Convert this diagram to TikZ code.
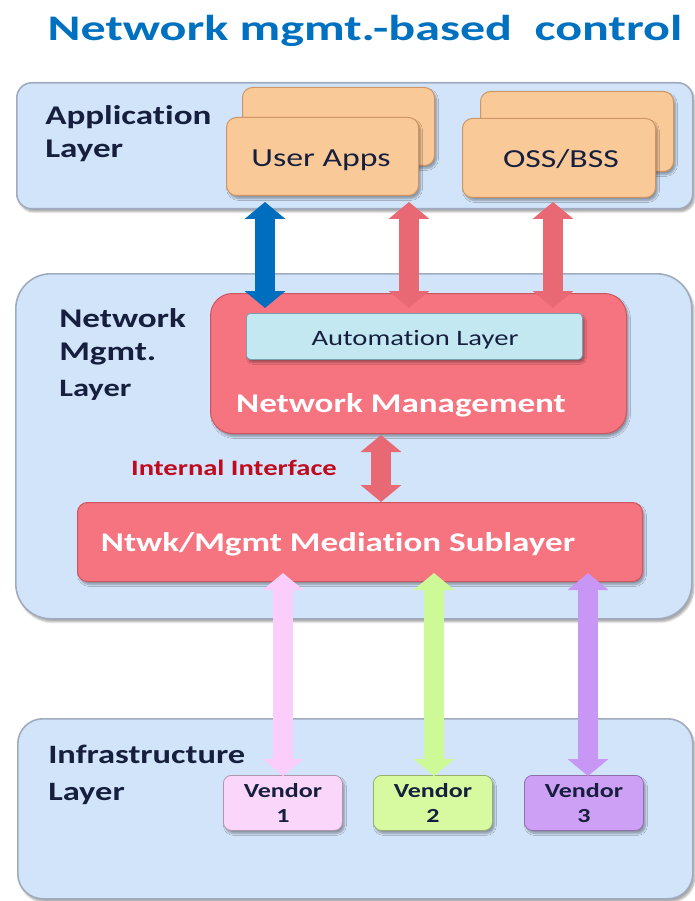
\documentclass[tikz,border=0pt]{standalone}
\usepackage{fontspec}
\setmainfont[Ligatures=NoCommon]{Carlito}
\usetikzlibrary{arrows.meta,shadows.blur}

\definecolor{layerfill}{RGB}{210,228,250}
\definecolor{layerline}{RGB}{160,172,190}
\definecolor{appfill}{RGB}{250,201,152}
\definecolor{appline}{RGB}{205,150,100}
\definecolor{nmfill}{RGB}{245,116,128}
\definecolor{nmline}{RGB}{205,85,95}
\definecolor{autofill}{RGB}{196,232,242}
\definecolor{autoline}{RGB}{120,160,175}
\definecolor{labeltext}{RGB}{22,32,62}
\definecolor{titleblue}{RGB}{0,112,192}
\definecolor{ifred}{RGB}{192,10,30}
\definecolor{arrblue}{RGB}{0,110,190}
\definecolor{arrred}{RGB}{232,105,115}
\definecolor{arrpink}{RGB}{250,205,250}
\definecolor{arrgreen}{RGB}{205,250,150}
\definecolor{arrpurple}{RGB}{200,150,245}
\definecolor{vpink}{RGB}{250,215,250}
\definecolor{vgreen}{RGB}{215,250,160}
\definecolor{vpurple}{RGB}{205,160,245}

\begin{document}
\begin{tikzpicture}[x=1pt,y=-1pt,
  softshadow/.style={blur shadow={shadow xshift=2pt,shadow yshift=-3pt,
      shadow blur steps=6,shadow opacity=35}},
  layerbox/.style={draw=layerline,line width=1.6pt,fill=layerfill,
      softshadow,anchor=north west,inner sep=0pt},
  appbox/.style={draw=appline,line width=1pt,fill=appfill,rounded corners=10pt,
      softshadow,anchor=north west,inner sep=0pt},
  nmbox/.style={draw=nmline,line width=1pt,fill=nmfill,softshadow,
      anchor=north west,inner sep=0pt},
  autobox/.style={draw=autoline,line width=0.8pt,fill=autofill,rounded corners=4pt,
      softshadow,anchor=north west,inner sep=0pt},
  vendorbox/.style={draw=#1!70!black,line width=0.8pt,fill=#1,rounded corners=8pt,
      softshadow,anchor=north west,inner sep=0pt,minimum width=119pt,minimum height=55pt},
  dblarrow/.style={line width=20pt,draw=#1,
      {Triangle[length=17pt,width=40pt]}-{Triangle[length=17pt,width=40pt]}},
  txt/.style={inner sep=0pt,xscale=1.3,text=labeltext},
  lbl/.style={txt,font=\bfseries\fontsize{27}{33}\selectfont,align=left,anchor=base west},
  wlbl/.style={inner sep=0pt,xscale=1.3,text=white,font=\bfseries\fontsize{27}{30}\selectfont,anchor=base},
  vtxt/.style={txt,font=\bfseries\fontsize{20}{25}\selectfont,align=center},
]
\useasboundingbox (0,0) rectangle (694,901);

% title
\node[inner sep=0pt,xscale=1.39,text=titleblue,font=\bfseries\fontsize{36}{40}\selectfont,anchor=base]
  (title) at (365,41) {Network mgmt.-based\ \ control};

% three layers
\node[layerbox,rounded corners=15pt,minimum width=676pt,minimum height=126pt] (app) at (16,82) {};
\node[layerbox,rounded corners=35pt,minimum width=676pt,minimum height=345pt] (nml) at (15,273) {};
\node[layerbox,rounded corners=25pt,minimum width=675pt,minimum height=180pt] (infra) at (17,718) {};

% application boxes
\node[appbox,minimum width=192pt,minimum height=78pt] (uaback) at (242,87) {};
\node[appbox,minimum width=192pt,minimum height=78pt] (ua) at (226,117) {};
\node[appbox,minimum width=193pt,minimum height=80pt] (ossback) at (480,91) {};
\node[appbox,minimum width=193pt,minimum height=79pt] (oss) at (462,118) {};

% network management and mediation
\node[nmbox,rounded corners=22pt,minimum width=416pt,minimum height=140pt] (nm) at (210,293) {};
\node[autobox,minimum width=336pt,minimum height=46pt] (auto) at (246,313) {};
\node[nmbox,rounded corners=10pt,minimum width=565pt,minimum height=79pt] (med) at (77,502) {};

% vendors
\node[vendorbox=vpink] (v1) at (223,775) {};
\node[vendorbox=vgreen] (v2) at (373,775) {};
\node[vendorbox=vpurple] (v3) at (524,775) {};

% arrow end points
\coordinate (ua1) at (265,202);  \coordinate (nm1) at (265,308);
\coordinate (ua2) at (409,202);  \coordinate (nm2) at (409,308);
\coordinate (os1) at (553,202);  \coordinate (nm3) at (553,308);
\coordinate (nmb) at (381,435);  \coordinate (medt) at (381,502);
\coordinate (m1) at (283,573);   \coordinate (vt1) at (283,776);
\coordinate (m2) at (434,573);   \coordinate (vt2) at (434,776);
\coordinate (m3) at (588,573);   \coordinate (vt3) at (588,776);

\draw[dblarrow=arrblue] (ua1) -- (nm1);
\draw[dblarrow=arrred] (ua2) -- (nm2);
\draw[dblarrow=arrred] (os1) -- (nm3);
\draw[dblarrow=arrred] (nmb) -- (medt);
\draw[dblarrow=arrpink] (m1) -- (vt1);
\draw[dblarrow=arrgreen] (m2) -- (vt2);
\draw[dblarrow=arrpurple] (m3) -- (vt3);

% layer labels (anchored on the baseline of their last line)
\node[lbl] (applbl) at (45,158) {Application\\Layer};
\node[lbl] (nmllbl) at (59,396) {Network\\Mgmt.\\[3pt]{\fontsize{25}{28}\selectfont Layer}};
\node[lbl,font=\bfseries\fontsize{26.5}{37}\selectfont] (infralbl) at (48,800) {Infrastructure\\Layer};

% box texts
\node[txt,font=\fontsize{26}{30}\selectfont,anchor=base] (uatxt) at (321,167) {User Apps};
\node[txt,font=\fontsize{26}{30}\selectfont,anchor=base] (osstxt) at (561,168) {OSS/BSS};
\node[txt,font=\fontsize{22}{26}\selectfont,anchor=base] (autotxt) at (415,345) {Automation Layer};
\node[wlbl] (nmtxt) at (401,412) {Network Management};
\node[wlbl] (medtxt) at (338,551) {Ntwk/Mgmt Mediation Sublayer};
\node[inner sep=0pt,xscale=1.3,text=ifred,font=\bfseries\fontsize{22}{26}\selectfont,anchor=base]
  (iftxt) at (234,475) {Internal Interface};

\node[vtxt] at (v1.center) {Vendor\\1};
\node[vtxt] at (v2.center) {Vendor\\2};
\node[vtxt] at (v3.center) {Vendor\\3};
\end{tikzpicture}
\end{document}
